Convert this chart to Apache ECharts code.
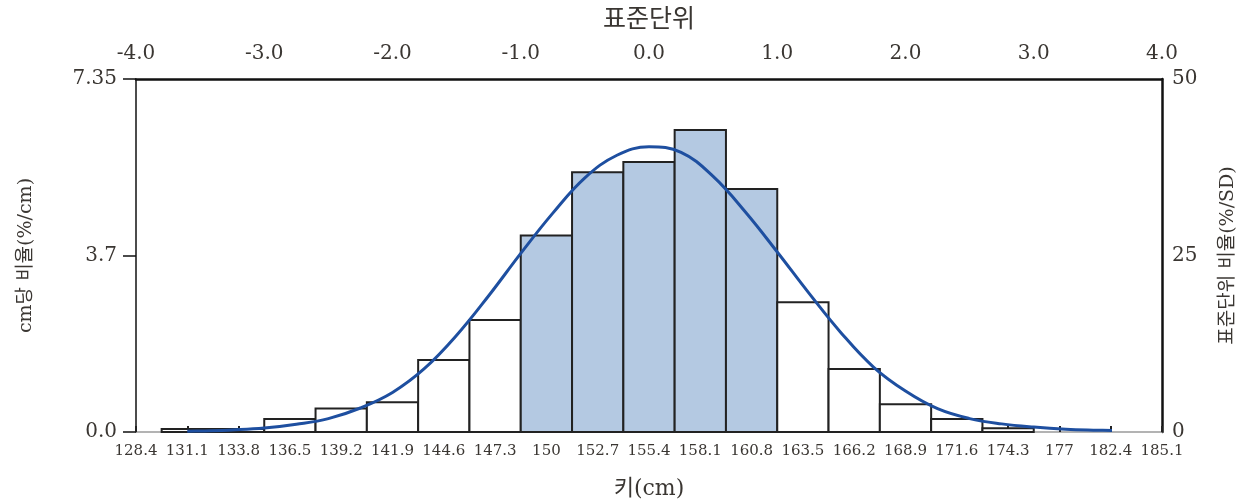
<!DOCTYPE html>
<html>
<head>
<meta charset="utf-8">
<script src="https://cdn.jsdelivr.net/npm/echarts@6/dist/echarts.min.js"></script>
<style>
html,body{margin:0;padding:0;background:#fff;}
#chart{width:1249px;height:502px;}
</style>
</head>
<body>
<div id="chart"></div>
<script>
// Height categories (cm) shown as tick labels on the bottom axis
const heightLabels = ["128.4","131.1","133.8","136.5","139.2","141.9","144.6","147.3","150","152.7","155.4","158.1","160.8","163.5","166.2","168.9","171.6","174.3","177","182.4","185.1"];
// Histogram density per bin (%/cm), one value per category
const densityPerCm = [0, 0.06, 0.06, 0.27, 0.49, 0.62, 1.50, 2.33, 4.09, 5.41, 5.62, 6.29, 5.06, 2.70, 1.31, 0.58, 0.27, 0.08, 0, 0, 0];
// Bins lying within one standard unit of the mean (shaded)
const shadedBins = ["150","152.7","155.4","158.1","160.8"];
// Left axis ticks
const leftTicks = [0, 3.675, 7.35];
const leftTickLabels = ["0.0","3.7","7.35"];
// Normal curve: standard units vs %/SD
const curveZ = [-3.6, -3.5, -3.25, -3.0, -2.75, -2.5, -2.25, -2.0, -1.75, -1.5, -1.25, -1.0, -0.75, -0.5, -0.25, 0.0, 0.25, 0.5, 0.75, 1.0, 1.25, 1.5, 1.75, 2.0, 2.25, 2.5, 2.75, 3.0, 3.25, 3.5, 3.61];
const curveV = [0.1, 0.15, 0.3, 0.55, 1.1, 1.9, 3.4, 5.6, 9.0, 13.7, 19.3, 25.3, 31.0, 36.0, 39.2, 40.4, 39.6, 36.2, 31.2, 25.5, 19.6, 14.0, 9.2, 5.8, 3.3, 1.9, 1.15, 0.7, 0.4, 0.25, 0.2];

const numFont = "'DejaVu Serif', 'Noto Sans CJK KR', serif";
const korFont = "'DejaVu Serif', 'Noto Sans CJK KR', sans-serif";
const txt = '#3a3632';

const barData = [];
densityPerCm.forEach(function (v, i) {
  if (v > 0) barData.push([i, v, shadedBins.indexOf(heightLabels[i]) >= 0 ? 1 : 0]);
});
const curveData = curveZ.map(function (z, i) { return [z, curveV[i]]; });

const chart = echarts.init(document.getElementById('chart'), null, {renderer: 'canvas'});
chart.setOption({
  animation: false,
  backgroundColor: '#fff',
  grid: {left: 136, right: 87, top: 79, bottom: 70, containLabel: false, outerBoundsMode: 'none'},
  xAxis: [
    {
      type: 'category', position: 'bottom', data: heightLabels, boundaryGap: false,
      name: '키(cm)', nameLocation: 'middle', nameGap: 46,
      nameTextStyle: {fontFamily: korFont, fontSize: 22, color: txt},
      axisLine: {onZero: false, lineStyle: {color: '#9a9a9a', width: 1.5}},
      axisTick: {show: true, inside: true, length: 6, alignWithLabel: true, lineStyle: {color: '#222', width: 2}},
      axisLabel: {interval: 0, margin: 12, fontFamily: numFont, fontSize: 15, color: txt},
      splitLine: {show: false}
    },
    {
      type: 'value', position: 'top', min: -4, max: 4, interval: 1,
      name: '표준단위', nameLocation: 'middle', nameGap: 46,
      nameTextStyle: {fontFamily: korFont, fontSize: 25, color: txt},
      axisLine: {show: true, onZero: false, lineStyle: {color: '#111', width: 2.5}},
      axisTick: {show: false},
      axisLabel: {margin: 15, fontFamily: numFont, fontSize: 20, color: txt, formatter: function (v) { return v.toFixed(1); }},
      splitLine: {show: false}
    }
  ],
  yAxis: [
    {
      type: 'value', position: 'left', min: 0, max: 7.35, interval: 3.675,
      name: 'cm당 비율(%/cm)', nameLocation: 'middle', nameGap: 100, nameRotate: 90,
      nameTextStyle: {fontFamily: korFont, fontSize: 19, color: txt},
      axisLine: {show: true, onZero: false, lineStyle: {color: '#111', width: 1.5}},
      axisTick: {show: true, length: 13, lineStyle: {color: '#111', width: 1.5}},
      axisLabel: {margin: 19, fontFamily: numFont, fontSize: 20, color: txt,
        formatter: function (v) { const k = leftTicks.findIndex(function (t) { return Math.abs(t - v) < 1e-6; }); return k >= 0 ? leftTickLabels[k] : ''; }},
      splitLine: {show: false}
    },
    {
      type: 'value', position: 'right', min: 0, max: 50, interval: 25,
      name: '표준단위 비율(%/SD)', nameLocation: 'middle', nameGap: 57, nameRotate: 90,
      nameTextStyle: {fontFamily: korFont, fontSize: 19, color: txt},
      axisLine: {show: true, onZero: false, lineStyle: {color: '#111', width: 2.5}},
      axisTick: {show: false},
      axisLabel: {margin: 10, fontFamily: numFont, fontSize: 20, color: txt},
      splitLine: {show: false}
    }
  ],
  series: [
    {
      type: 'custom', xAxisIndex: 0, yAxisIndex: 0, z: 2,
      encode: {x: 0, y: 1},
      data: barData,
      renderItem: function (params, api) {
        const i = api.value(0), v = api.value(1);
        const p0 = api.coord([i, 0]);
        const p1 = api.coord([i, v]);
        const w = api.size([1, 0])[0];
        return {
          type: 'rect',
          shape: {x: p0[0] - w / 2, y: p1[1], width: w, height: p0[1] - p1[1]},
          style: {fill: api.value(2) ? '#b4c9e2' : '#ffffff', stroke: '#222', lineWidth: 2}
        };
      }
    },
    {
      type: 'line', xAxisIndex: 1, yAxisIndex: 1, z: 5,
      data: curveData, smooth: 0.4, showSymbol: false,
      lineStyle: {color: '#1e4fa0', width: 3}
    }
  ]
});
</script>
</body>
</html>
